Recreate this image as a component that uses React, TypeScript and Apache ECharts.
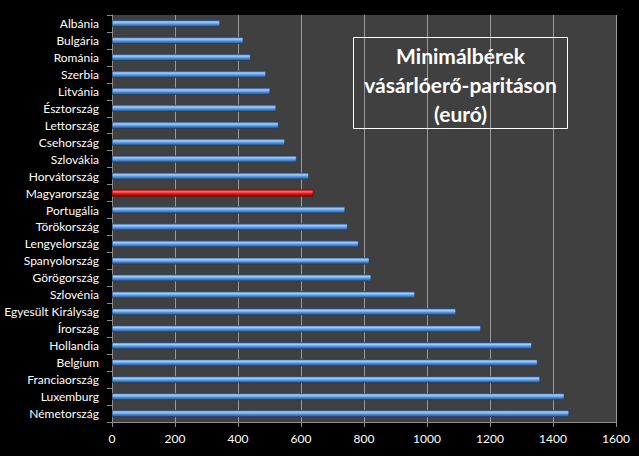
import React, { useEffect, useRef } from "react";
import * as echarts from "echarts";

const countries = [
  "Albánia", "Bulgária", "Románia", "Szerbia", "Litvánia", "Észtország", "Lettország",
  "Csehország", "Szlovákia", "Horvátország", "Magyarország", "Portugália", "Törökország",
  "Lengyelország", "Spanyolország", "Görögország", "Szlovénia", "Egyesült Királyság",
  "Írország", "Hollandia", "Belgium", "Franciaország", "Luxemburg", "Németország",
];
const values = [
  343, 417, 440, 489, 502, 521, 529, 549, 586, 625, 639, 740, 748,
  783, 817, 823, 962, 1092, 1171, 1333, 1351, 1359, 1436, 1451,
];
const highlighted = "Magyarország";
const titleLines = ["Minimálbérek", "vásárlóerő-paritáson", "(euró)"];
const xTicks = { min: 0, max: 1600, interval: 200 };

const FONT = "Lato, 'Noto Sans', sans-serif";

export default function App() {
  const ref = useRef<HTMLDivElement>(null);
  useEffect(() => {
    if (!ref.current) return;
    const chart = echarts.init(ref.current, null, { renderer: "svg" });
    const blue = new echarts.graphic.LinearGradient(0, 0, 0, 1, [
      { offset: 0, color: "#4f86c8" },
      { offset: 0.3, color: "#a3cdf7" },
      { offset: 0.55, color: "#5f9de2" },
      { offset: 1, color: "#224c84" },
    ]);
    const red = new echarts.graphic.LinearGradient(0, 0, 0, 1, [
      { offset: 0, color: "#d02020" },
      { offset: 0.3, color: "#ff7070" },
      { offset: 0.55, color: "#f01818" },
      { offset: 1, color: "#900000" },
    ]);
    chart.setOption({
      animation: false,
      backgroundColor: "#000000",
      grid: {
        left: 112,
        right: 23,
        top: 15,
        bottom: 34,
        show: true,
        backgroundColor: "#404040",
        borderWidth: 0,
      },
      xAxis: {
        type: "value",
        min: xTicks.min,
        max: xTicks.max,
        interval: xTicks.interval,
        axisLine: { show: true, lineStyle: { color: "#8c8c8c", width: 1 } },
        axisTick: { show: true, length: 5, lineStyle: { color: "#8c8c8c" } },
        axisLabel: {
          color: "#ffffff",
          fontSize: 12,
          fontFamily: FONT,
          margin: 10,
          formatter: (v: number) => String(v),
        },
        splitLine: { show: true, lineStyle: { color: "#9a9a9a", width: 1 } },
      },
      yAxis: {
        type: "category",
        data: countries,
        inverse: true,
        axisLine: { show: true, lineStyle: { color: "#8c8c8c", width: 1 } },
        axisTick: { show: true, length: 5, alignWithLabel: false, lineStyle: { color: "#8c8c8c" } },
        axisLabel: { color: "#ffffff", fontSize: 12, fontFamily: FONT, margin: 13 },
        splitLine: { show: false },
      },
      series: [
        {
          type: "bar",
          data: countries.map((c, i) => ({
            value: values[i],
            itemStyle: {
              color: c === highlighted ? red : blue,
              borderColor: c === highlighted ? "#700000" : "#1d3d66",
              borderWidth: 0.6,
            },
          })),
          barWidth: 7,
        },
      ],
      graphic: [
        {
          type: "rect",
          shape: { x: 353.5, y: 37.5, width: 214, height: 91 },
          style: { fill: "transparent", stroke: "#ffffff", lineWidth: 1 },
          z: 10,
        },
        ...titleLines.map((t, i) => ({
          type: "text",
          x: 460.5,
          y: 55 + i * 29,
          style: {
            text: t,
            fill: "#ffffff",
            font: `bold 21px ${FONT}`,
            align: "center",
            verticalAlign: "middle",
          },
          z: 11,
        })),
      ],
    });
    return () => chart.dispose();
  }, []);
  return (
    <div
      ref={ref}
      style={{ position: "fixed", left: 0, top: 0, width: 639, height: 456 }}
    />
  );
}
